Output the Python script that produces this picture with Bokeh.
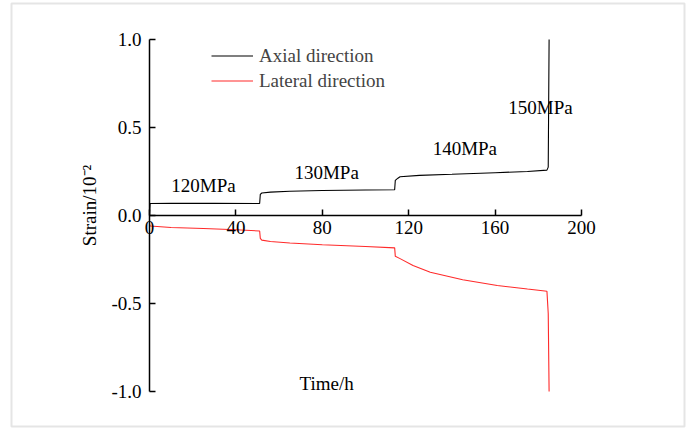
import math
from bokeh.plotting import figure
from bokeh.models import (LinearAxis, FixedTicker, Range1d, Legend, LegendItem,
                          Label, BoxAnnotation, NumeralTickFormatter)
from bokeh.core.properties import value
from bokeh.embed import file_html
from bokeh.resources import INLINE

# ---- data ----
axial_t = [0, 0.3, 10, 30, 51.0, 51.3, 52, 56, 65, 80, 100, 113.5, 113.8, 115, 116, 125, 140, 160, 175, 184.0, 184.6, 185.0]
axial_s = [0, 0.068, 0.070, 0.069, 0.068, 0.120, 0.128, 0.133, 0.138, 0.142, 0.145, 0.146, 0.200, 0.212, 0.220, 0.228, 0.234, 0.243, 0.250, 0.258, 0.275, 1.0]

lateral_t = [0, 0.3, 10, 25, 40, 51.0, 51.3, 52, 56, 65, 80, 100, 113.5, 113.8, 116, 122, 130, 145, 161, 175, 184.0, 184.6, 185.0]
lateral_s = [-0.050, -0.060, -0.068, -0.074, -0.081, -0.088, -0.130, -0.140, -0.148, -0.156, -0.166, -0.176, -0.184, -0.232, -0.245, -0.284, -0.322, -0.365, -0.398, -0.418, -0.430, -0.557, -1.0]

x_ticks = [0, 40, 80, 120, 160, 200]
y_ticks = [-1.0, -0.5, 0.0, 0.5, 1.0]

stage_text = ["120MPa", "130MPa", "140MPa", "150MPa"]
stage_x = [25, 82, 146, 181]
stage_y = [0.17, 0.243, 0.38, 0.614]

series_names = ["Axial direction", "Lateral direction"]
x_title = "Time/h"
y_title = "Strain/10\u207b\u00b2"

FONT = "Liberation Serif"
FS = "19px"

# frame covers the whole canvas; axes are pinned at x=0 and y=0
p = figure(width=689, height=428, output_backend="svg", toolbar_location=None,
           x_range=Range1d(-68.98, 250.0), y_range=Range1d(-1.2102, 1.2216),
           x_axis_location=None, y_axis_location=None,
           min_border_left=0, min_border_right=0,
           min_border_top=0, min_border_bottom=0)
p.grid.visible = False
p.outline_line_color = None
p.background_fill_color = "white"
p.border_fill_color = "white"

ya = LinearAxis(fixed_location=0, ticker=FixedTicker(ticks=y_ticks),
                bounds=(y_ticks[0], y_ticks[-1]))
ya.formatter = NumeralTickFormatter(format="0.0")
ya.major_tick_in = 6
ya.major_tick_out = 0
ya.minor_tick_line_color = None
ya.axis_line_width = 1.5
ya.major_tick_line_width = 1.5
ya.major_label_text_font = FONT
ya.major_label_text_font_size = FS
ya.major_label_text_color = "black"
ya.major_label_standoff = 8
p.add_layout(ya, "left")

xa = LinearAxis(fixed_location=0, ticker=FixedTicker(ticks=x_ticks),
                bounds=(x_ticks[0], x_ticks[-1]))
xa.major_tick_in = 6
xa.major_tick_out = 0
xa.minor_tick_line_color = None
xa.axis_line_width = 1.5
xa.major_tick_line_width = 1.5
xa.major_label_text_font = FONT
xa.major_label_text_font_size = FS
xa.major_label_text_color = "black"
xa.major_label_standoff = 5
p.add_layout(xa, "below")

r_ax = p.line(axial_t, axial_s, line_color="black", line_width=1.1)
r_lat = p.line(lateral_t, lateral_s, line_color="#ff2a2a", line_width=1.1)

p.text(x=stage_x, y=stage_y, text=stage_text, text_align="center",
       text_baseline="middle", text_font=value(FONT), text_font_size=value(FS),
       text_color="black")

p.add_layout(Label(x=82, y=-0.955, text=x_title, text_align="center",
                   text_baseline="middle", text_font=FONT, text_font_size=FS,
                   text_color="black"))

p.add_layout(Label(x=-28, y=0.057, text=y_title, angle=math.pi / 2,
                   text_align="center", text_baseline="middle",
                   text_font=FONT, text_font_size=FS, text_color="black"))

legend = Legend(items=[LegendItem(label=series_names[0], renderers=[r_ax]),
                       LegendItem(label=series_names[1], renderers=[r_lat])],
                location=(211, 335), padding=0, margin=0, spacing=0,
                border_line_color=None, background_fill_alpha=0,
                label_text_font=FONT, label_text_font_size=FS,
                glyph_width=42, glyph_height=25, label_height=25,
                label_standoff=6)
p.add_layout(legend, "center")

p.add_layout(BoxAnnotation(left=11, right=684, top=3, bottom=426,
                           left_units="canvas", right_units="canvas",
                           top_units="canvas", bottom_units="canvas",
                           fill_alpha=0, line_color="#aaaaaa", line_width=2))

open("out.html", "w").write(file_html(p, INLINE))
